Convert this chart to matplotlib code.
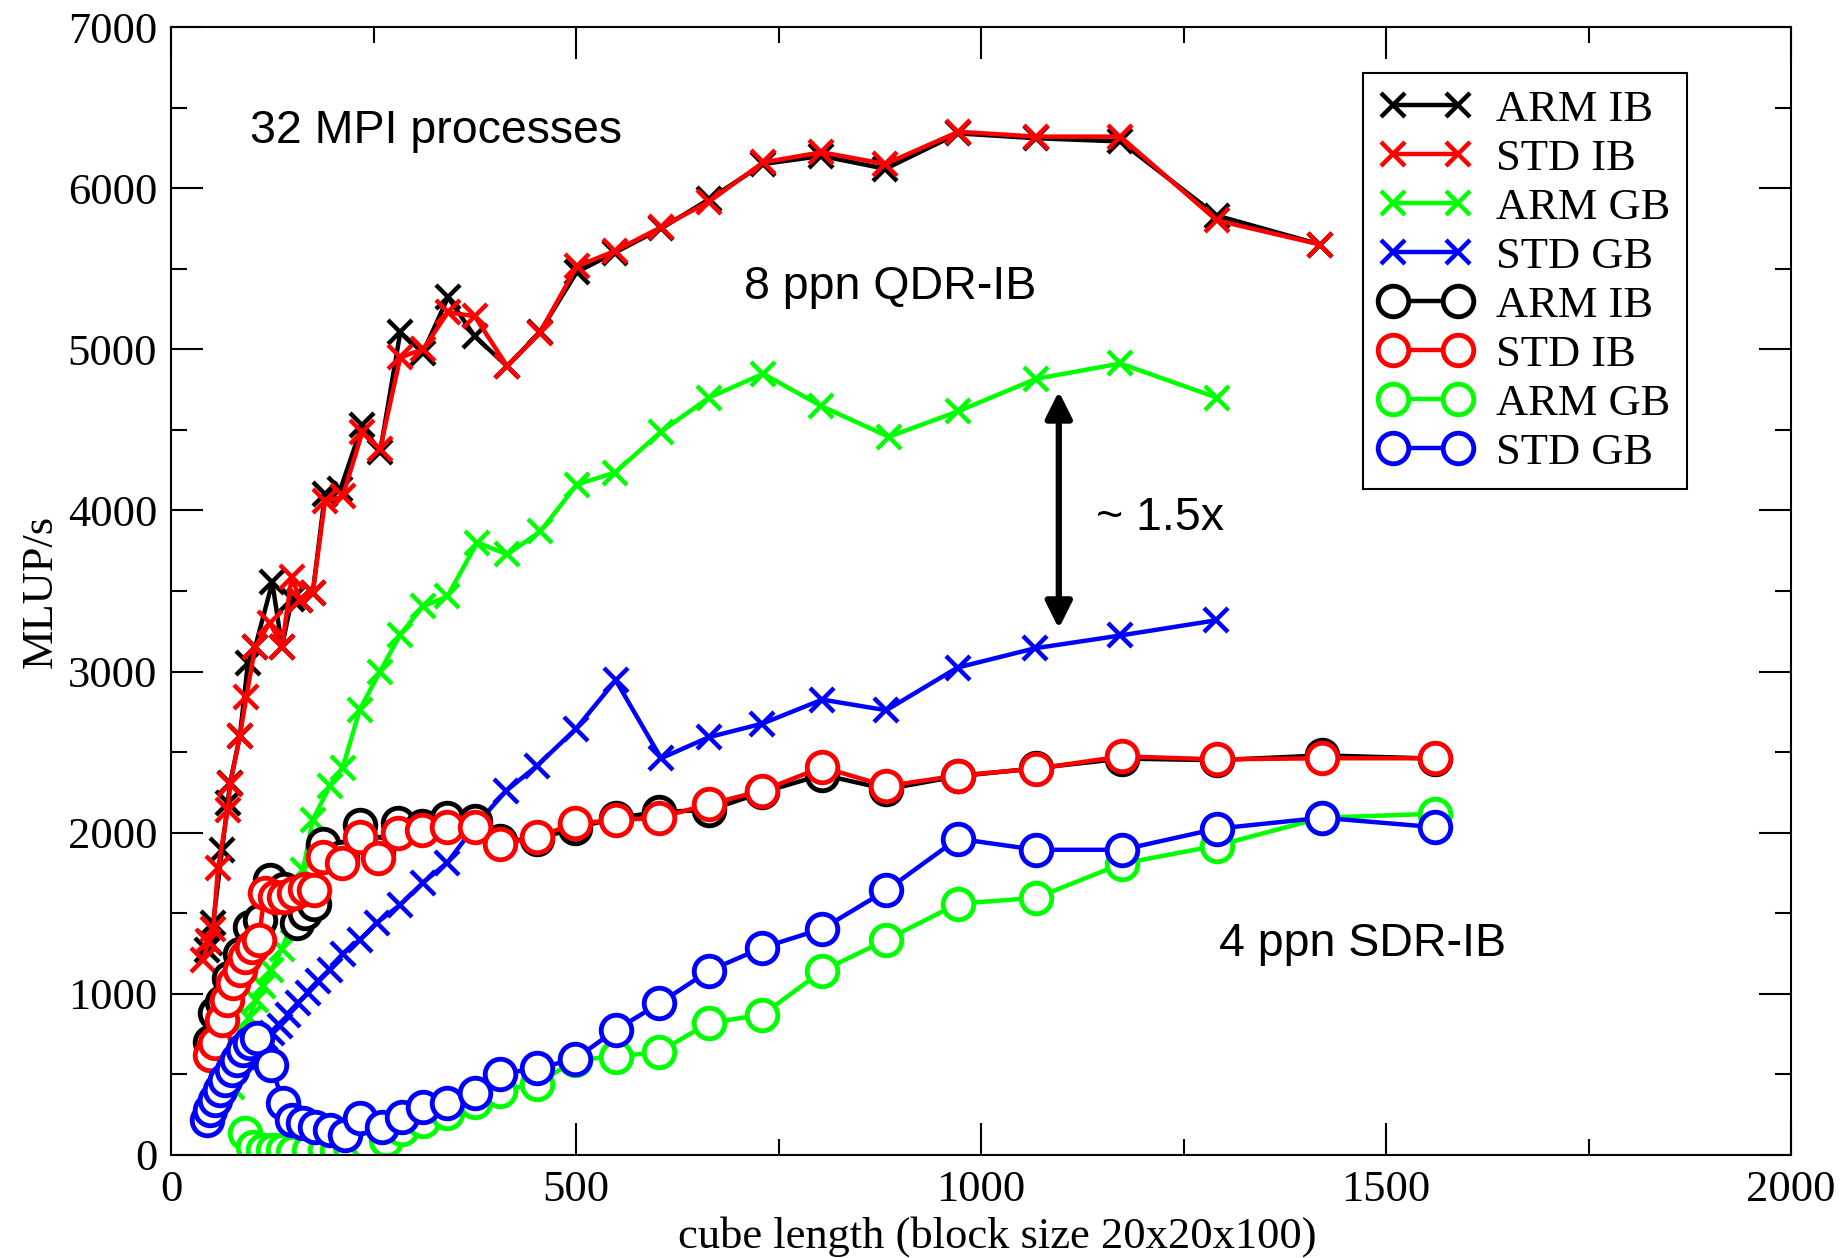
import matplotlib
matplotlib.use('Agg')
import matplotlib.pyplot as plt
from matplotlib.ticker import MultipleLocator

# Series con cruces: 8 ppn QDR-IB
armIBx_len = [44, 48, 52, 63, 70, 73, 85, 95, 104, 125, 137, 149, 159, 175, 190, 209, 236, 258,
              283, 311, 342, 375, 415, 455, 501, 548, 605, 664, 731, 803, 882, 972, 1068, 1172, 1291, 1419]
armIBx = [1273, 1315, 1440, 1894, 2185, 2310, 2600, 3056, 3155, 3553, 3155, 3450, 3447, 3490, 4100, 4130, 4530, 4360,
          5105, 4980, 5323, 5080, 4895, 5105, 5480, 5600, 5750, 5930, 6150, 6200, 6120, 6340, 6310, 6290, 5830, 5650]

stdIBx_len = [40, 46, 52, 58, 70, 73, 85, 93, 104, 122, 137, 149, 159, 175, 190, 212, 236, 258,
              283, 311, 342, 375, 415, 455, 501, 548, 605, 664, 731, 803, 882, 972, 1068, 1172, 1291, 1419]
stdIBx = [1210, 1330, 1400, 1780, 2140, 2300, 2600, 2845, 3155, 3304, 3155, 3590, 3447, 3490, 4056, 4087, 4484, 4379,
          4950, 5000, 5230, 5205, 4895, 5100, 5515, 5610, 5758, 5916, 6160, 6223, 6150, 6350, 6320, 6320, 5800, 5650]

armGBx_len = [75, 80, 88, 96, 105, 113, 124, 137, 150, 163, 175, 196, 212, 233, 258, 283, 311, 341,
              378, 415, 456, 501, 548, 605, 664, 731, 803, 886, 972, 1068, 1172, 1291]
armGBx = [420, 560, 760, 850, 960, 1050, 1150, 1280, 1450, 1770, 2080, 2290, 2404, 2764, 3000, 3230, 3404, 3466,
          3801, 3727, 3870, 4161, 4235, 4489, 4700, 4848, 4647, 4457, 4616, 4817, 4912, 4700]

stdGBx_len = [89, 106, 116, 125, 134, 145, 157, 169, 182, 196, 212, 233, 254, 283, 311, 341, 375,
              414, 452, 500, 549, 605, 664, 730, 804, 883, 971, 1067, 1172, 1290]
stdGBx = [610, 690, 725, 758, 800, 870, 944, 1006, 1080, 1150, 1250, 1335, 1441, 1553, 1690, 1814, 2040,
          2261, 2416, 2646, 2946, 2462, 2593, 2677, 2826, 2760, 3025, 3145, 3224, 3318]

# Series con circulos: 4 ppn SDR-IB
armIBo_len = [48, 54, 63, 72, 85, 98, 110, 122, 140, 155, 165, 176, 188, 211, 233, 256, 280, 310, 341, 375,
              406, 452, 499, 549, 603, 664, 730, 804, 883, 971, 1068, 1174, 1291, 1421, 1561]
armIBo = [700, 880, 950, 1100, 1250, 1416, 1460, 1708, 1650, 1441, 1500, 1560, 1930, 1850, 2050, 1880, 2060, 2040, 2090, 2070,
          1950, 1960, 2030, 2090, 2130, 2140, 2250, 2360, 2270, 2350, 2400, 2460, 2450, 2480, 2460]

stdIBo_len = [48, 54, 63, 69, 77, 85, 91, 100, 108, 116, 128, 140, 152, 165, 176, 188, 211, 233, 256, 280, 310, 341, 375,
              406, 452, 499, 549, 603, 664, 730, 804, 883, 971, 1068, 1174, 1291, 1421, 1561]
stdIBo = [620, 695, 838, 962, 1068, 1149, 1230, 1292, 1335, 1627, 1603, 1603, 1627, 1648, 1646, 1851, 1814, 1975, 1845, 2000, 2019, 2037, 2037,
          1927, 1974, 2058, 2077, 2093, 2177, 2261, 2407, 2289, 2355, 2397, 2474, 2455, 2462, 2462]

armGBo_len = [91, 101, 114, 126, 138, 150, 170, 190, 205, 221, 242, 266, 285, 311, 341, 375,
              406, 452, 499, 549, 603, 664, 730, 804, 883, 971, 1068, 1174, 1291, 1421, 1561]
armGBo = [137, 50, 31, 31, 31, 20, 31, 31, 31, 50, 75, 93, 160, 210, 260, 330,
          400, 440, 590, 610, 640, 820, 870, 1143, 1335, 1559, 1596, 1808, 1920, 2093, 2118]

stdGBo_len = [44, 48, 54, 60, 67, 75, 81, 89, 98, 106, 124, 138, 149, 163, 178, 196, 215, 233, 260, 285, 311, 341, 375,
              406, 452, 499, 549, 603, 664, 730, 804, 883, 971, 1068, 1174, 1291, 1421, 1561]
stdGBo = [217, 280, 342, 404, 466, 528, 590, 652, 696, 727, 559, 323, 217, 199, 174, 155, 124, 230, 174, 236, 298, 323, 385,
          503, 537, 596, 776, 941, 1143, 1286, 1404, 1642, 1963, 1894, 1894, 2025, 2093, 2034]

flecha_x = 1096
flecha_y = (3267, 4739)

serif = 'Liberation Serif'
sans = 'Liberation Sans'

fig = plt.figure(figsize=(18.47, 12.58), dpi=100)
ax = fig.add_axes([0.0926, 0.0819, 0.9697 - 0.0926, 0.9785 - 0.0819])

cruz = dict(marker='x', markersize=17, markeredgewidth=3.2, linewidth=3.2)
circ = dict(marker='o', markersize=22, markeredgewidth=3.5, markerfacecolor='white', linewidth=3.2)

ax.plot(armIBx_len, armIBx, color='black', label='ARM IB', **cruz)
ax.plot(stdIBx_len, stdIBx, color='red', label='STD IB', **cruz)
ax.plot(armGBx_len, armGBx, color='#00ff00', label='ARM GB', **cruz)
ax.plot(stdGBx_len, stdGBx, color='blue', label='STD GB', **cruz)
ax.plot(armIBo_len, armIBo, color='black', label='ARM IB', **circ)
ax.plot(stdIBo_len, stdIBo, color='red', label='STD IB', **circ)
ax.plot(armGBo_len, armGBo, color='#00ff00', label='ARM GB', **circ)
ax.plot(stdGBo_len, stdGBo, color='blue', label='STD GB', **circ)

ax.set_xlim(0, 2000)
ax.set_ylim(0, 7000)
ax.xaxis.set_major_locator(MultipleLocator(500))
ax.xaxis.set_minor_locator(MultipleLocator(250))
ax.yaxis.set_major_locator(MultipleLocator(1000))
ax.yaxis.set_minor_locator(MultipleLocator(500))
ax.tick_params(which='both', direction='in', top=True, right=True, width=1.5, colors='black')
ax.tick_params(which='major', length=23)
ax.tick_params(which='minor', length=11.5)
ax.tick_params(axis='x', which='major', pad=11)
ax.tick_params(axis='y', which='major', pad=10)
for lab in ax.get_xticklabels() + ax.get_yticklabels():
    lab.set_fontfamily(serif)
    lab.set_fontsize(32)
for s in ax.spines.values():
    s.set_linewidth(1.5)

ax.set_xlabel('cube length (block size 20x20x100)', fontfamily=serif, fontsize=32)
ax.set_ylabel('MLUP/s', fontfamily=serif, fontsize=32)
ax.xaxis.set_label_coords(0.51, -0.054)
ax.yaxis.set_label_coords(-0.068, 0.5)

ax.text(97, 6282, '32 MPI processes', fontfamily=sans, fontsize=33.5, va='baseline')
ax.text(707, 5310, '8 ppn QDR-IB', fontfamily=sans, fontsize=33.5, va='baseline')
ax.text(1142, 3880, '~ 1.5x', fontfamily=sans, fontsize=33.5, va='baseline')
ax.text(1294, 1233, '4 ppn SDR-IB', fontfamily=sans, fontsize=33.5, va='baseline')

ax.annotate('', xy=(flecha_x, flecha_y[1]), xytext=(flecha_x, flecha_y[0]),
            arrowprops=dict(arrowstyle='<|-|>,head_length=1.6,head_width=0.8', lw=4.5,
                            color='black', shrinkA=0, shrinkB=0, mutation_scale=10))

leg = ax.legend(loc='upper left', bbox_to_anchor=(0.736, 0.959), borderaxespad=0,
                numpoints=2, handlelength=2.06, handletextpad=0.56, borderpad=0.37,
                labelspacing=0.2, fancybox=False, framealpha=1, edgecolor='black',
                prop={'family': serif, 'size': 32})
leg.get_frame().set_linewidth(1.5)

plt.savefig('out.png', dpi=100)
